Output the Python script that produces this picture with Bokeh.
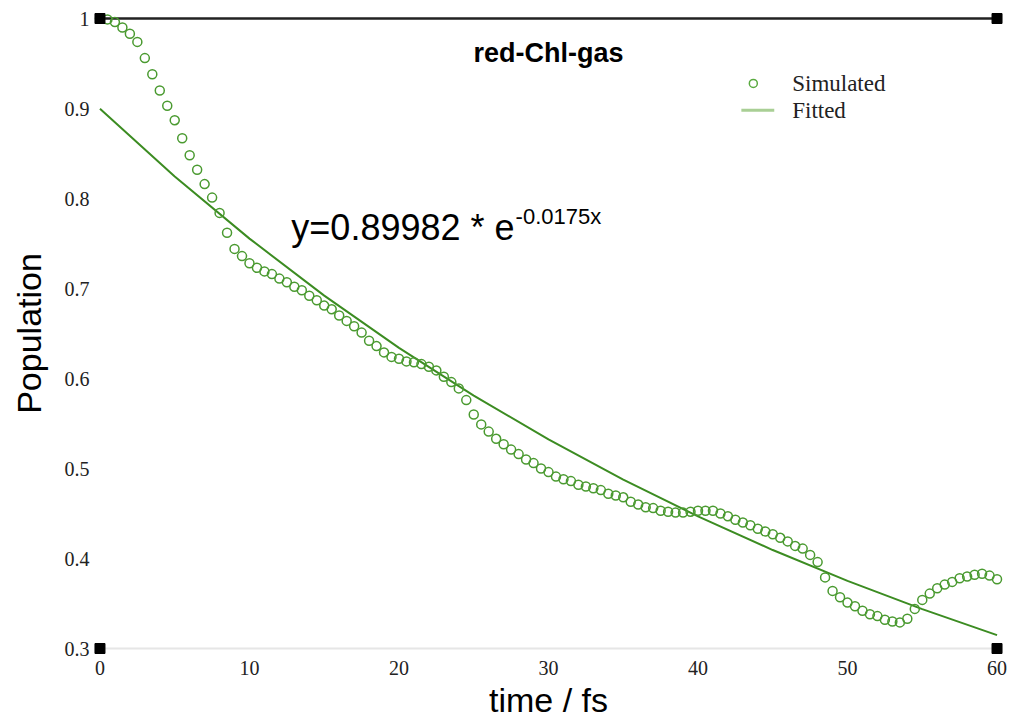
from bokeh.plotting import figure
from bokeh.models import Range1d, FixedTicker, Label
from bokeh.embed import file_html
from bokeh.resources import INLINE

# ---- data ----
time_fs = [0.0, 0.5, 1.0, 1.5, 2.0, 2.5, 3.0, 3.5, 4.0, 4.5, 5.0, 5.5, 6.0, 6.5, 7.0, 7.5, 8.0, 8.5, 9.0, 9.5,
           10.0, 10.5, 11.0, 11.5, 12.0, 12.5, 13.0, 13.5, 14.0, 14.5, 15.0, 15.5, 16.0, 16.5, 17.0, 17.5, 18.0, 18.5, 19.0, 19.5,
           20.0, 20.5, 21.0, 21.5, 22.0, 22.5, 23.0, 23.5, 24.0, 24.5, 25.0, 25.5, 26.0, 26.5, 27.0, 27.5, 28.0, 28.5, 29.0, 29.5,
           30.0, 30.5, 31.0, 31.5, 32.0, 32.5, 33.0, 33.5, 34.0, 34.5, 35.0, 35.5, 36.0, 36.5, 37.0, 37.5, 38.0, 38.5, 39.0, 39.5,
           40.0, 40.5, 41.0, 41.5, 42.0, 42.5, 43.0, 43.5, 44.0, 44.5, 45.0, 45.5, 46.0, 46.5, 47.0, 47.5, 48.0, 48.5, 49.0, 49.5,
           50.0, 50.5, 51.0, 51.5, 52.0, 52.5, 53.0, 53.5, 54.0, 54.5, 55.0, 55.5, 56.0, 56.5, 57.0, 57.5, 58.0, 58.5, 59.0, 59.5,
           60.0]
simulated = [1.000, 0.999, 0.996, 0.990, 0.983, 0.974, 0.956, 0.938, 0.920, 0.903, 0.887, 0.867, 0.848, 0.832, 0.816, 0.801, 0.784, 0.762, 0.744, 0.736,
             0.728, 0.723, 0.719, 0.716, 0.711, 0.707, 0.702, 0.698, 0.692, 0.687, 0.681, 0.677, 0.670, 0.664, 0.658, 0.651, 0.642, 0.636, 0.629, 0.624,
             0.622, 0.619, 0.618, 0.616, 0.613, 0.609, 0.602, 0.596, 0.589, 0.576, 0.560, 0.549, 0.541, 0.533, 0.527, 0.521, 0.516, 0.510, 0.506, 0.500,
             0.496, 0.491, 0.488, 0.486, 0.482, 0.480, 0.478, 0.476, 0.472, 0.470, 0.468, 0.463, 0.460, 0.457, 0.456, 0.453, 0.452, 0.451, 0.451, 0.452,
             0.453, 0.453, 0.453, 0.450, 0.447, 0.443, 0.440, 0.437, 0.433, 0.430, 0.427, 0.423, 0.419, 0.414, 0.411, 0.404, 0.396, 0.379, 0.364, 0.357,
             0.351, 0.347, 0.342, 0.338, 0.336, 0.332, 0.330, 0.329, 0.333, 0.344, 0.354, 0.361, 0.367, 0.371, 0.374, 0.378, 0.380, 0.382, 0.383, 0.381,
             0.377]
fit_time = [0, 5, 10, 15, 20, 25, 30, 35, 40, 45, 50, 55, 60]
fitted = [0.8998, 0.8244, 0.7554, 0.6921, 0.6341, 0.5810, 0.5323, 0.4877, 0.4468, 0.4094, 0.3751, 0.3437, 0.3149]
frame_x = [0, 60]
frame_top_y = [1.0, 1.0]
corner_x = [0, 60, 0, 60]
corner_y = [1.0, 1.0, 0.3, 0.3]
y_ticks = [0.3, 0.4, 0.5, 0.6, 0.7, 0.8, 0.9, 1.0]
y_tick_labels = ["0.3", "0.4", "0.5", "0.6", "0.7", "0.8", "0.9", "1"]
x_ticks = [0, 10, 20, 30, 40, 50, 60]

GREEN = "#4a9a30"
LINE_GREEN = "#3c8c22"
SERIF = "Liberation Serif"
SANS = "Liberation Sans"

p = figure(width=1012, height=726, output_backend="svg", toolbar_location=None,
           x_range=Range1d(-0.5, 60.5), y_range=Range1d(0.29, 1.01),
           min_border_left=92, min_border_right=8, min_border_top=9, min_border_bottom=69,
           x_axis_label="time / fs", y_axis_label="Population")
p.outline_line_color = None
p.grid.visible = False
p.background_fill_color = "white"
p.border_fill_color = "white"

for ax in (p.xaxis[0], p.yaxis[0]):
    ax.axis_line_color = None
    ax.major_tick_line_color = None
    ax.minor_tick_line_color = None
    ax.major_label_text_font = SERIF
    ax.major_label_text_font_size = "20px"
    ax.major_label_text_color = "#222222"
    ax.axis_label_text_font = SANS
    ax.axis_label_text_font_size = "34px"
    ax.axis_label_text_font_style = "normal"
    ax.axis_label_text_color = "black"
p.xaxis[0].ticker = FixedTicker(ticks=x_ticks)
p.xaxis[0].major_label_standoff = -3
p.xaxis[0].axis_label_standoff = 3
p.yaxis[0].ticker = FixedTicker(ticks=y_ticks)
p.yaxis[0].major_label_overrides = {t: s for t, s in zip(y_ticks, y_tick_labels)}
p.yaxis[0].major_label_standoff = -3
p.yaxis[0].axis_label_standoff = 14

# bottom light axis line
p.line(frame_x, [0.3, 0.3], line_color="#e6e6e6", line_width=2)
# top black line
p.line(frame_x, frame_top_y, line_color="#222222", line_width=2.5)

# fitted
p.line(fit_time, fitted, line_color=LINE_GREEN, line_width=2)
# simulated
p.scatter(time_fs, simulated, marker="circle", size=9, fill_color=None,
          line_color=GREEN, line_width=1.5)

# corner squares
p.scatter(corner_x, corner_y, marker="square", size=10, fill_color="black", line_color="black")

# legend (manual)
p.scatter([43.7], [0.9278], marker="circle", size=8, fill_color=None, line_color="#5aaa40", line_width=1.5)
p.line([42.9, 45.1], [0.898, 0.898], line_color="#a9cf95", line_width=3)
p.add_layout(Label(x=46.3, y=0.9278, text="Simulated", text_font=SERIF, text_font_size="23px",
                   text_baseline="middle", text_align="left", text_color="#222222"))
p.add_layout(Label(x=46.3, y=0.898, text="Fitted", text_font=SERIF, text_font_size="23px",
                   text_baseline="middle", text_align="left", text_color="#222222"))

# title
p.add_layout(Label(x=30, y=0.962, text="red-Chl-gas", text_font=SANS, text_font_size="27px",
                   text_font_style="bold", text_baseline="middle", text_align="center", text_color="black"))

# equation
p.add_layout(Label(x=12.8, y=0.7678, text="y=0.89982 * e", text_font=SANS, text_font_size="36px",
                   text_baseline="alphabetic", text_align="left", text_color="black"))
p.add_layout(Label(x=27.8, y=0.780, text="-0.0175x", text_font=SANS, text_font_size="22px",
                   text_baseline="alphabetic", text_align="left", text_color="black"))

open("out.html", "w").write(file_html(p, INLINE))
